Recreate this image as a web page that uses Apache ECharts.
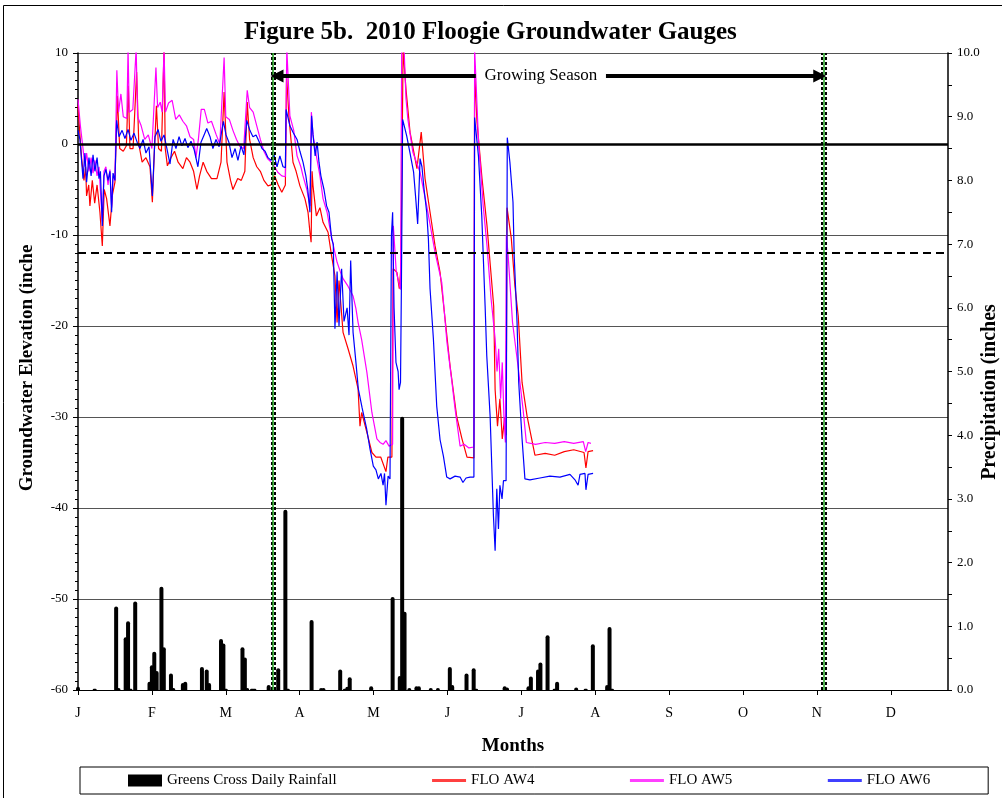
<!DOCTYPE html>
<html>
<head>
<meta charset="utf-8">
<title>Figure 5b. 2010 Floogie Groundwater Gauges</title>
<script src="https://cdn.jsdelivr.net/npm/echarts/dist/echarts.min.js"></script>
<style>
  html, body { margin: 0; padding: 0; background: #fff; }
  #chart { width: 1002px; height: 798px; }
</style>
</head>
<body>
<div id="chart"></div>
<script>
// x = day of 2010 (0 = Jan 1), axis ticks every 31 days like the Excel sheet
const monthLetters = ['J', 'F', 'M', 'A', 'M', 'J', 'J', 'A', 'S', 'O', 'N', 'D']

// Greens Cross daily rainfall (inches)
const rainDays = [0, 7, 16, 17, 20, 21, 22, 24, 30, 31, 32, 33, 35, 36, 39, 40, 44, 45, 52, 54, 55,
  60, 61, 62, 69, 70, 71, 73, 74, 80, 84, 87, 88, 98, 102, 103, 110, 112, 113, 114, 123,
  132, 135, 136, 137, 139, 142, 143, 148, 151, 156, 157, 163, 166, 167, 179, 180,
  189, 190, 193, 194, 197, 200, 201, 209, 213, 216, 222, 223, 224]
const rainVals = [0.05, 0.02, 1.31, 0.03, 0.83, 1.08, 0.02, 1.39, 0.13, 0.39, 0.6, 0.3, 1.62, 0.67, 0.26, 0.03, 0.11, 0.13, 0.36, 0.32, 0.11,
  0.8, 0.73, 0.02, 0.67, 0.51, 0.03, 0.02, 0.02, 0.08, 0.34, 2.83, 0.02, 1.1, 0.03, 0.03, 0.32, 0.02, 0.05, 0.2, 0.06,
  1.46, 0.22, 4.29, 1.23, 0.03, 0.06, 0.06, 0.03, 0.03, 0.36, 0.08, 0.26, 0.34, 0.02, 0.06, 0.04,
  0.06, 0.21, 0.32, 0.43, 0.86, 0.02, 0.13, 0.04, 0.02, 0.72, 0.08, 0.99, 0.02]

// groundwater elevation (inches), [day, value]
const aw4 = [[0, 4.2], [0.8, 1.0], [1.5, -1.5], [2.5, -4.0], [3.2, -2.5], [3.6, -5.7], [4.5, -4.5], [5.0, -6.8], [6.0, -4.0],
  [7.0, -6.5], [8.0, -4.5], [9.2, -7.5], [10.2, -11.2], [11.0, -5.0], [12.0, -6.0], [13.4, -9.0], [14.5, -5.5], [15.5, -4.2],
  [16.5, 5.3], [17.5, -0.5], [19.0, -0.8], [20.3, -0.2], [21.1, 6.4], [21.8, -0.5], [23.1, -0.5], [24.6, 7.9], [25.5, 0.0],
  [26.9, -2.0], [28.5, -1.5], [30.2, -2.5], [31.2, -6.4], [32.0, -1.0], [32.9, 4.2], [33.8, -0.5], [35.0, -0.8], [36.1, 10.5],
  [36.6, -0.5], [37.5, -2.4], [39.0, -1.5], [40.5, -0.8], [42.0, -2.0], [44.0, -2.7], [45.5, -1.5], [47.0, -2.0], [48.5, -3.0],
  [49.9, -5.0], [51.0, -3.5], [52.5, -2.0], [54.0, -3.0], [56.0, -3.8], [58.3, -3.8], [60.0, -2.0], [61.3, 5.7], [62.5, -2.0],
  [64.0, -4.0], [65.0, -5.0], [67.0, -3.8], [68.5, -4.0], [70.0, -3.0], [71.0, 4.6], [72.0, 0.5], [73.5, -1.5], [75.0, -2.5],
  [76.5, -3.0], [78.0, -4.0], [79.7, -4.6], [81.0, -4.5], [82.5, -3.5], [84.0, -4.5], [85.5, -5.3], [87.0, -4.5], [87.5, 7.5],
  [88.5, 3.0], [90.2, -2.0], [91.5, -3.0], [93.1, -4.6], [95.2, -6.0], [96.5, -7.5], [97.3, -9.7], [97.8, -10.8], [98.2, -3.0],
  [98.6, -4.6], [100.0, -7.9], [101.5, -7.0], [102.8, -8.6], [104.9, -9.7], [106.4, -12.3], [107.8, -14.5], [108.7, -19.6],
  [109.5, -15.0], [111.2, -20.7], [113.3, -22.5], [115.4, -24.4], [117.5, -26.9], [118.3, -31.0], [119.0, -29.5], [121.2, -31.7],
  [123.3, -33.9], [125.0, -34.4], [127.0, -34.4], [129.2, -36.0], [130.0, -34.4], [131.7, -34.4], [132.2, -13.7], [133.8, -14.1],
  [134.8, -15.9], [135.5, -13.5], [136.4, 10.5], [137.0, 10.5], [137.6, 6.0], [139.3, 1.3], [142.2, -2.7], [144.0, 1.3],
  [145.6, -3.8], [147.7, -7.5], [149.8, -11.2], [151.9, -14.1], [154.0, -19.2], [156.1, -24.4], [158.9, -30.0], [161.1, -32.4],
  [163.2, -34.4], [166.1, -34.5], [166.4, 8.0], [167.0, 8.0], [167.4, 2.4], [169.5, -3.8], [171.6, -9.0], [173.0, -13.4],
  [174.4, -17.8], [175.0, -27.0], [176.0, -31.0], [177.0, -28.0], [178.0, -32.4], [179.0, -30.0], [179.6, -32.0], [180.0, -7.0],
  [181.8, -10.4], [183.3, -15.6], [184.7, -18.9], [186.3, -26.2], [188.4, -29.9], [191.7, -34.2], [196.0, -34.0], [200.0, -34.2],
  [204.0, -33.8], [208.0, -33.6], [212.3, -33.9], [213.1, -35.6], [214.0, -33.8], [216.1, -33.7]]

const aw5 = [[0, 4.9], [1.0, 2.0], [2.1, -0.5], [2.9, -2.5], [3.6, -1.0], [4.6, -3.0], [5.5, -1.5], [6.3, -3.2], [7.1, -1.8],
  [8.0, -3.5], [8.8, -2.5], [10.2, -8.5], [10.9, -3.0], [11.7, -2.5], [12.6, -4.5], [13.4, -2.8], [14.1, -7.0], [14.7, -3.5],
  [15.5, -4.0], [16.3, 8.1], [17.0, 3.5], [18.0, 5.5], [19.0, 3.0], [20.5, 2.8], [21.0, 10.5], [21.5, 3.5], [23.0, 3.8],
  [24.4, 10.5], [25.0, 3.0], [26.5, 2.0], [28.0, 0.5], [29.5, 1.0], [31.0, -0.5], [32.7, 8.4], [33.4, 4.0], [34.5, 4.6],
  [35.3, 3.5], [36.1, 10.5], [36.7, 3.5], [38.0, 4.5], [39.5, 4.8], [41.0, 2.7], [42.5, 3.2], [44.0, 2.5], [45.5, 2.0],
  [47.0, 0.8], [48.5, 0.5], [49.5, -1.5], [50.5, 0.5], [51.7, 3.8], [53.0, 3.8], [54.5, 2.3], [56.0, 2.5], [58.0, 1.0],
  [59.5, 0.0], [61.3, 9.5], [62.0, 3.0], [63.5, 2.7], [65.0, 1.5], [66.5, 0.5], [68.0, -0.3], [69.5, -0.5], [71.0, 5.9],
  [72.0, 4.0], [73.5, 3.5], [75.0, 2.0], [76.5, 0.5], [78.0, -0.8], [79.5, -1.6], [81.0, -2.0], [82.5, -2.5], [83.8, -3.1],
  [85.5, -3.5], [87.0, -3.6], [87.6, 10.5], [88.9, 3.1], [90.5, 1.5], [91.9, -1.3], [93.5, -2.5], [94.4, -3.5], [96.0, -5.0],
  [97.3, -6.8], [97.9, 3.5], [98.6, 1.0], [100.0, -1.3], [101.5, -3.5], [102.8, -6.0], [104.5, -7.5], [105.7, -9.3],
  [107.0, -11.0], [108.7, -13.0], [110.0, -14.0], [111.2, -14.8], [113.0, -15.5], [115.4, -16.7], [116.6, -18.1], [117.5, -19.6],
  [119.0, -21.5], [121.2, -25.1], [123.3, -29.5], [125.4, -32.4], [126.7, -32.8], [128.0, -33.0], [129.2, -32.6], [130.5, -33.2],
  [132.0, -33.0], [132.3, -9.0], [133.5, -14.0], [135.3, -16.0], [135.8, 10.5], [136.8, 10.5], [137.6, 5.0], [138.4, 2.7],
  [140.5, -0.9], [143.5, -3.1], [146.3, -6.8], [149.8, -11.9], [152.6, -15.2], [154.8, -21.8], [156.9, -26.2], [158.2, -29.1],
  [160.3, -33.2], [162.0, -33.0], [164.0, -33.4], [166.1, -33.3], [166.4, 10.5], [166.9, 10.5], [168.0, 0.5], [170.0, -6.8],
  [171.6, -11.2], [173.3, -17.0], [175.0, -21.4], [175.8, -25.0], [176.5, -22.5], [177.3, -28.0], [178.0, -24.0], [178.7, -30.0],
  [179.3, -32.8], [179.7, -10.0], [180.4, -12.0], [182.3, -19.6], [184.6, -24.4], [186.7, -29.1], [188.1, -32.8], [192.0, -33.0],
  [196.0, -32.8], [200.0, -32.9], [204.0, -32.7], [208.0, -32.9], [212.0, -32.7], [213.0, -33.8], [214.0, -32.8], [215.2, -32.9]]

const aw6 = [[0, 1.5], [0.8, 0.5], [2.1, -3.8], [2.9, -1.0], [3.6, -4.2], [4.6, -1.5], [5.5, -3.5], [6.3, -1.2], [7.1, -3.0],
  [8.0, -1.5], [8.8, -3.8], [9.4, -3.0], [10.2, -9.0], [10.9, -3.5], [11.7, -2.8], [12.6, -4.0], [13.4, -3.0], [14.1, -7.5],
  [14.7, -3.2], [15.5, -4.0], [16.2, 2.6], [17.2, 0.8], [18.5, 1.5], [19.7, 0.6], [21.0, 1.6], [22.2, 0.4], [23.5, 1.2],
  [24.8, 0.2], [26.0, -0.5], [27.3, 0.5], [28.5, -1.0], [29.8, -0.3], [31.2, -5.7], [32.3, 0.8], [33.6, 1.6], [34.8, 0.3],
  [36.1, 1.0], [37.3, -0.5], [38.6, -2.2], [39.9, 0.5], [41.1, -0.5], [42.4, 0.8], [43.6, -0.2], [44.9, 0.6], [46.1, -0.4],
  [47.4, 0.3], [48.7, -0.6], [50.3, -2.5], [51.6, 0.2], [52.9, 1.0], [54.0, 1.7], [55.4, 0.8], [56.6, -0.5], [57.9, 0.5],
  [59.2, -0.3], [61.0, 2.5], [62.1, 1.0], [63.3, 0.2], [64.6, -1.5], [65.9, -0.5], [67.1, -1.8], [68.4, -0.2], [69.6, -1.2],
  [70.8, 2.6], [72.1, 1.5], [73.4, 0.8], [74.7, 1.0], [75.9, 0.3], [77.2, -0.5], [78.5, -0.8], [79.7, -1.5], [81.0, -1.8],
  [82.2, -1.2], [83.5, -2.5], [84.7, -1.3], [86.0, -2.5], [87.0, -2.6], [87.3, 3.8], [88.9, 2.0], [90.2, 1.3], [91.9, 0.5],
  [93.1, -0.8], [94.4, -2.0], [95.6, -3.5], [96.4, -5.0], [97.3, -7.5], [98.0, 3.1], [98.6, 1.0], [99.5, -1.3], [100.3, 0.2],
  [101.1, -2.0], [101.9, -3.5], [103.2, -5.0], [104.3, -6.8], [105.3, -7.5], [106.4, -10.4], [107.1, -11.0], [107.8, -20.3],
  [108.7, -14.0], [109.5, -20.0], [110.6, -13.7], [111.6, -19.5], [112.9, -18.0], [113.7, -21.0], [114.4, -12.8], [115.4, -20.7],
  [116.6, -24.0], [117.6, -26.9], [119.2, -29.0], [121.1, -31.3], [122.5, -33.5], [123.9, -35.4], [125.0, -35.8], [126.0, -36.8],
  [127.1, -36.2], [128.0, -37.5], [128.6, -36.2], [129.2, -39.7], [130.1, -36.5], [130.9, -36.8], [131.5, -10.0], [132.0, -7.5],
  [132.6, -18.0], [133.4, -24.0], [134.3, -25.0], [134.7, -27.0], [135.3, -26.2], [135.7, -15.0], [136.2, 2.7], [137.9, 0.9],
  [139.3, -1.0], [140.8, -3.1], [141.7, -6.0], [142.5, -8.8], [143.2, -4.0], [143.5, -1.6], [144.3, -2.5], [145.2, -5.0],
  [146.3, -7.5], [147.0, -10.4], [147.7, -15.9], [149.1, -21.4], [150.5, -28.8], [151.9, -32.5], [153.3, -34.3], [154.7, -36.6],
  [156.1, -36.8], [158.2, -36.5], [160.3, -36.6], [161.5, -37.2], [162.8, -36.7], [164.5, -36.6], [166.1, -36.6], [166.4, 2.9],
  [168.0, -1.3], [169.4, -7.9], [170.8, -17.8], [171.5, -23.3], [172.9, -29.9], [174.3, -40.9], [175.0, -44.7], [175.7, -37.9],
  [176.4, -42.3], [177.0, -37.5], [177.9, -39.0], [178.5, -37.0], [179.1, -37.2], [179.6, -37.0], [180.1, 0.7], [181.2, -2.0],
  [182.5, -6.4], [183.0, -12.3], [184.2, -19.6], [184.9, -26.2], [186.3, -32.4], [187.5, -36.8], [189.6, -36.9], [193.8, -36.7],
  [198.0, -36.5], [202.2, -36.6], [206.4, -36.3], [208.5, -36.9], [209.8, -37.5], [210.6, -36.3], [212.7, -36.2], [213.1, -38.0],
  [214.0, -36.3], [216.1, -36.2]]

// reference lines
const growStart = 81.9
const growEnd = 312.8
const zeroLine = 0
const dashLine = -12
const arrowLevel = 7.47

const serif = '"Liberation Serif", "DejaVu Serif", serif'
const rainData = rainDays.map((d, i) => [d, rainVals[i]])

// double dashed boundary with a green core, like the Excel drop lines
const seasonLine = x => ([
  { xAxis: x - 0.75, lineStyle: { color: '#000', width: 2, type: [3, 2] } },
  { xAxis: x, lineStyle: { color: '#1a9a1a', width: 1.5, type: 'solid' } },
  { xAxis: x + 0.75, lineStyle: { color: '#000', width: 2, type: [3, 2] } }
])

// legend entry for a line: plain stroke, no marker
const lineLegend = (name, color) => ({
  name,
  itemStyle: { color: 'rgba(0,0,0,0)', borderWidth: 0 },
  lineStyle: { color, width: 3 }
})

const myCharts = echarts.init(document.getElementById('chart'))

const option = {
  animation: false,
  backgroundColor: '#fff',
  textStyle: { fontFamily: serif, color: '#000' },
  title: {
    text: 'Figure 5b.  2010 Floogie Groundwater Gauges',
    left: 239,
    top: 15,
    textStyle: { fontFamily: serif, fontSize: 25, fontWeight: 'bold', color: '#000' }
  },
  graphic: [
    {
      type: 'rect',
      shape: { x: 3.5, y: 5.5, width: 1010, height: 810 },
      style: { fill: 'none', stroke: '#000', lineWidth: 1 },
      silent: true
    },
    {
      type: 'text',
      x: 27, y: 368, rotation: Math.PI / 2,
      style: {
        text: 'Groundwater Elevation (inche',
        font: 'bold 19px ' + serif,
        fill: '#000', textAlign: 'center', textVerticalAlign: 'middle'
      }
    },
    {
      type: 'text',
      x: 990, y: 392, rotation: Math.PI / 2,
      style: {
        text: 'Precipitation (inches',
        font: 'bold 20px ' + serif,
        fill: '#000', textAlign: 'center', textVerticalAlign: 'middle'
      }
    }
  ],
  legend: {
    left: 80,
    top: 767,
    padding: [6, 58, 6, 48],
    itemGap: 94,
    itemWidth: 34,
    itemHeight: 12,
    borderColor: '#000',
    borderWidth: 1,
    textStyle: { fontFamily: serif, fontSize: 15, color: '#000' },
    data: [
      { name: 'Greens Cross Daily Rainfall', icon: 'rect' },
      lineLegend('FLO AW4', '#ff4040'),
      lineLegend('FLO AW5', '#ff40ff'),
      lineLegend('FLO AW6', '#4040ff')
    ]
  },
  grid: {
    left: 78,
    right: 54,
    top: 53,
    bottom: 108,
    containLabel: false
  },
  xAxis: {
    type: 'value',
    min: 0,
    max: 365,
    interval: 31,
    name: 'Months',
    nameLocation: 'middle',
    nameGap: 47,
    nameTextStyle: { fontFamily: serif, fontSize: 19, fontWeight: 'bold', color: '#000' },
    axisLine: { show: true, onZero: false, lineStyle: { color: '#000', width: 1 } },
    axisTick: { show: true, length: 5, lineStyle: { color: '#000' } },
    axisLabel: {
      margin: 16,
      fontFamily: serif,
      fontSize: 14,
      color: '#000',
      showMaxLabel: false,
      formatter: v => monthLetters[Math.round(v / 31)] || ''
    },
    splitLine: { show: false }
  },
  yAxis: [{
    type: 'value',
    min: -60,
    max: 10,
    interval: 10,
    axisLine: { show: true, onZero: false, lineStyle: { color: '#000', width: 1.5 } },
    axisTick: { show: true, length: 5, lineStyle: { color: '#000' } },
    minorTick: { show: true, splitNumber: 10, length: 3, lineStyle: { color: '#000' } },
    axisLabel: { margin: 10, fontFamily: serif, fontSize: 13, color: '#000' },
    splitLine: { show: true, lineStyle: { color: '#555', width: 1 } }
  }, {
    type: 'value',
    min: 0,
    max: 10,
    interval: 1,
    position: 'right',
    axisLine: { show: true, onZero: false, lineStyle: { color: '#000', width: 1.5 } },
    axisTick: { show: true, length: 4, lineStyle: { color: '#000' } },
    minorTick: { show: true, splitNumber: 2, length: 4, lineStyle: { color: '#000' } },
    axisLabel: { margin: 9, fontFamily: serif, fontSize: 13, color: '#000', formatter: v => v.toFixed(1) },
    splitLine: { show: false }
  }],
  series: [{
    name: 'Greens Cross Daily Rainfall',
    type: 'bar',
    yAxisIndex: 1,
    data: rainData,
    barWidth: 4,
    itemStyle: { color: '#000', borderRadius: [2, 2, 0, 0] },
    z: 3
  }, {
    name: 'FLO AW4',
    type: 'line',
    data: aw4,
    symbol: 'none',
    lineStyle: { color: '#ff0000', width: 1.2 },
    itemStyle: { color: '#ff0000' },
    z: 2,
    markLine: {
      silent: true,
      symbol: 'none',
      label: { show: false },
      data: [
        { yAxis: zeroLine, lineStyle: { color: '#000', width: 2.5, type: 'solid' } },
        { yAxis: dashLine, lineStyle: { color: '#000', width: 2, type: [8, 5] } },
        ...seasonLine(growStart),
        ...seasonLine(growEnd),
        [
          { coord: [growStart + 1.6, arrowLevel], symbol: 'triangle', symbolSize: [13, 13] },
          { coord: [166.9, arrowLevel], symbol: 'none', lineStyle: { color: '#000', width: 4, type: 'solid' } }
        ],
        [
          { coord: [221.5, arrowLevel], symbol: 'none' },
          { coord: [growEnd - 1.6, arrowLevel], symbol: 'triangle', symbolSize: [13, 13], lineStyle: { color: '#000', width: 4, type: 'solid' } }
        ]
      ]
    },
    markPoint: {
      silent: true,
      symbol: 'rect',
      symbolSize: 1,
      itemStyle: { color: 'rgba(0,0,0,0)' },
      label: {
        show: true,
        position: 'inside',
        fontFamily: serif,
        fontSize: 17,
        color: '#000',
        formatter: 'Growing Season'
      },
      data: [{ coord: [(166.9 + 221.5) / 2, arrowLevel] }]
    }
  }, {
    name: 'FLO AW5',
    type: 'line',
    data: aw5,
    symbol: 'none',
    lineStyle: { color: '#ff00ff', width: 1.2 },
    itemStyle: { color: '#ff00ff' },
    z: 2
  }, {
    name: 'FLO AW6',
    type: 'line',
    data: aw6,
    symbol: 'none',
    lineStyle: { color: '#0000ff', width: 1.2 },
    itemStyle: { color: '#0000ff' },
    z: 2
  }]
}

myCharts.setOption(option)
</script>
</body>
</html>
